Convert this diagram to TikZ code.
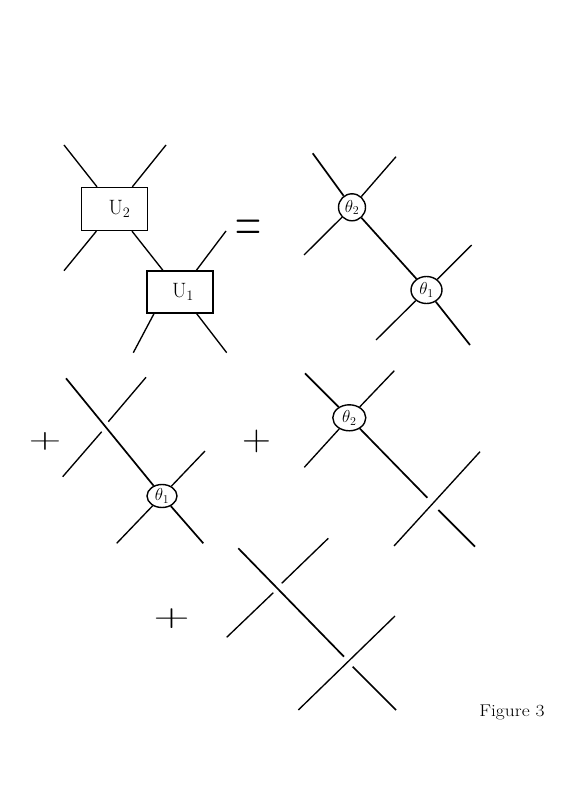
\documentclass[tikz,border=0pt]{standalone}
\usepackage{graphicx}
\usetikzlibrary{shapes.geometric,calc}
\begin{document}
\begin{tikzpicture}[x=1pt,y=-1pt,
  thinline/.style={line width=1.35pt},
  mainline/.style={line width=1.7pt},
  gate/.style={draw,line width=1.3pt,minimum width=66pt,minimum height=43pt,inner sep=0pt,font=\fontsize{20.74}{22}\selectfont},
  blob/.style={draw,ellipse,line width=1.4pt,inner sep=0pt,font=\fontsize{17.28}{18}\selectfont},
  op/.style={inner sep=0pt}]
\useasboundingbox[fill=white] (0,0) rectangle (574,794);

% ---------- row 1 left: gates ----------
\node[gate] (U2) at (114.5,209) {\hspace{10pt}$\mathrm{U}_2$};
\node[gate,minimum height=42pt] (U1) at (180,292) {\hspace{6pt}$\mathrm{U}_1$};
\coordinate (a1) at (64,145);
\coordinate (a2) at (166,145);
\coordinate (a3) at (64,270.7);
\coordinate (a4) at (226,231);
\coordinate (a5) at (133.3,352.7);
\coordinate (a6) at (226.7,352.7);
\draw[thinline] (a1) -- (U2);
\draw[thinline] (a2) -- (U2);
\draw[thinline] (a3) -- (U2);
\draw[thinline] (U2) -- (U1);
\draw[thinline] (a4) -- (U1);
\draw[thinline] (a5) -- ($(U1.south)+(-26,0)$);
\draw[thinline] (a6) -- (U1);

\node[op] (eq) at (248.8,230.8) {\scalebox{1}[1.75]{\fontsize{36}{36}\selectfont =}};

% ---------- row 1 right ----------
\node[blob,minimum width=27pt,minimum height=27pt] (T2) at (352,207.3) {$\theta_2$};
\node[blob,minimum width=31pt,minimum height=27pt] (T1) at (426.5,290) {$\theta_1$};
\coordinate (b1) at (312.7,153.3);
\coordinate (b2) at (396,156.7);
\coordinate (b3) at (304,255);
\coordinate (b4) at (471.7,245);
\coordinate (b5) at (376,340);
\coordinate (b6) at (470,345);
\draw[mainline] (b1) -- (T2);
\draw[thinline] (b2) -- (T2);
\draw[thinline] (b3) -- (T2);
\draw[mainline] (T2) -- (T1);
\draw[thinline] (b4) -- (T1);
\draw[thinline] (b5) -- (T1);
\draw[mainline] (b6) -- (T1);

% ---------- row 2 left ----------
\node[op] (p1) at (45,441.5) {\scalebox{1}[0.63]{\fontsize{45}{45}\selectfont +}};
\node[blob,minimum width=30pt,minimum height=23pt] (T3) at (162,496) {$\theta_1$};
\coordinate (c1) at (66,378.3);
\coordinate (c2) at (146,377.3);
\coordinate (c2b) at (108.3,421.7);
\coordinate (c3b) at (101.7,431.7);
\coordinate (c3) at (62.7,476.7);
\coordinate (c4) at (205,451);
\coordinate (c5) at (116.7,543.3);
\coordinate (c6) at (203.3,543.3);
\draw[mainline] (c1) -- (T3);
\draw[thinline] (c2) -- (c2b);
\draw[thinline] (c3b) -- (c3);
\draw[thinline] (c4) -- (T3);
\draw[thinline] (c5) -- (T3);
\draw[mainline] (c6) -- (T3);

% ---------- row 2 right ----------
\node[op] (p2) at (256.7,441.5) {\scalebox{1}[0.91]{\fontsize{40}{40}\selectfont +}};
\node[blob,minimum width=33pt,minimum height=26pt] (T4) at (349.3,417.8) {$\theta_2$};
\coordinate (d1) at (305,373.3);
\coordinate (d2) at (394.3,370.7);
\coordinate (d3) at (304.3,467.3);
\coordinate (d4) at (427.3,497.7);
\coordinate (d5) at (438.3,510);
\coordinate (d6) at (475,546.7);
\coordinate (d7) at (480,451.7);
\coordinate (d8) at (394,546);
\draw[mainline] (d1) -- (T4);
\draw[thinline] (d2) -- (T4);
\draw[thinline] (d3) -- (T4);
\draw[mainline] (T4) -- (d4);
\draw[mainline] (d5) -- (d6);
\draw[thinline] (d7) -- (d8);

% ---------- row 3 ----------
\node[op] (p3) at (171.7,618.8) {\scalebox{1}[0.63]{\fontsize{50}{50}\selectfont +}};
\coordinate (e1) at (238.3,548.3);
\coordinate (e2) at (344,656.7);
\coordinate (e3) at (352.7,666.7);
\coordinate (e4) at (396,710);
\coordinate (e5) at (328.3,538.3);
\coordinate (e6) at (281.7,583.3);
\coordinate (e7) at (273.3,592.7);
\coordinate (e8) at (226.7,637.3);
\coordinate (e9) at (395,616);
\coordinate (e10) at (298.3,710);
\draw[mainline] (e1) -- (e2);
\draw[mainline] (e3) -- (e4);
\draw[thinline] (e5) -- (e6);
\draw[thinline] (e7) -- (e8);
\draw[thinline] (e9) -- (e10);

% ---------- caption ----------
\node[op] (fig) at (512,712) {\scalebox{1.15}[1]{\fontsize{17}{17}\selectfont Figure 3}};
\end{tikzpicture}
\end{document}
